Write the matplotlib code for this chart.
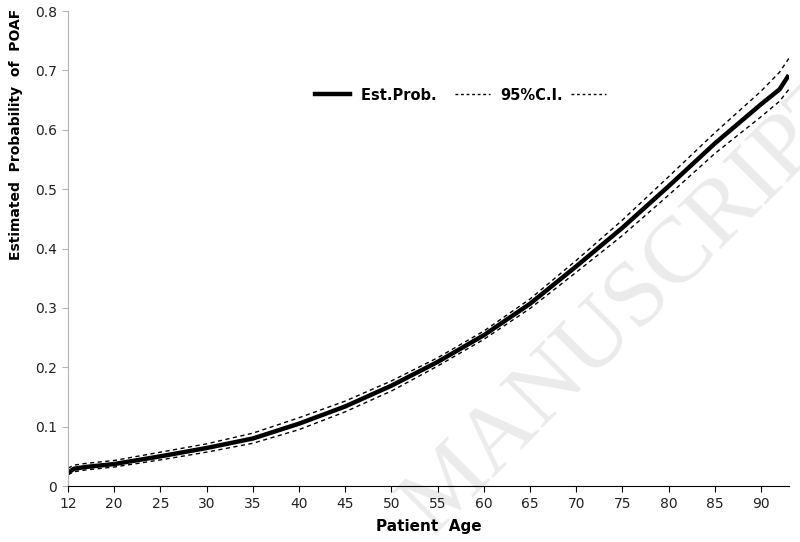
import numpy as np
import matplotlib
matplotlib.use("Agg")
import matplotlib.pyplot as plt
from matplotlib.lines import Line2D

# =========================
# DATA
# =========================
age = [12, 13, 15, 20, 25, 30, 35, 40, 45, 50, 55, 60, 65, 70, 75, 80, 85, 90, 92, 93]
est_prob = [0.022, 0.029, 0.032, 0.037, 0.050, 0.064, 0.080, 0.105, 0.134, 0.169, 0.209,
            0.254, 0.307, 0.370, 0.435, 0.505, 0.577, 0.643, 0.668, 0.692]
ci_upper = [0.030, 0.035, 0.038, 0.043, 0.057, 0.071, 0.089, 0.115, 0.143, 0.177, 0.216,
            0.261, 0.315, 0.380, 0.448, 0.521, 0.595, 0.665, 0.697, 0.720]
ci_lower = [0.019, 0.024, 0.027, 0.032, 0.044, 0.057, 0.072, 0.095, 0.125, 0.160, 0.202,
            0.247, 0.299, 0.360, 0.422, 0.490, 0.560, 0.622, 0.648, 0.668]

x_ticks = [12, 20, 25, 30, 35, 40, 45, 50, 55, 60, 65, 70, 75, 80, 85, 90]
y_ticks = [0, 0.1, 0.2, 0.3, 0.4, 0.5, 0.6, 0.7, 0.8]
y_tick_labels = ["0", "0.1", "0.2", "0.3", "0.4", "0.5", "0.6", "0.7", "0.8"]


# the first axis interval (12 -> 20) is squeezed to the width of 5 years
def fwd(x):
    x = np.asarray(x, dtype=float)
    return np.where(x < 20, 15 + (x - 12) * 5 / 8, x)


def inv(p):
    p = np.asarray(p, dtype=float)
    return np.where(p < 20, 12 + (p - 15) * 8 / 5, p)


fig = plt.figure(figsize=(8, 5.42), dpi=100)
ax = fig.add_axes([0.085, 0.1033, 0.901, 0.8764])

# watermark, drawn behind the axes
fig.text(0.79, 0.44, "MANUSCRIPT", fontsize=68, family="Liberation Serif",
         color="#ebebeb", rotation=45, ha="center", va="center", zorder=-1)
ax.patch.set_alpha(0)

ax.set_xscale("function", functions=(fwd, inv))

ax.plot(age, ci_upper, color="black", lw=1, linestyle=(0, (3, 2.5)))
ax.plot(age, ci_lower, color="black", lw=1, linestyle=(0, (3, 2.5)))
ax.plot(age, est_prob, color="black", lw=3.2, solid_capstyle="butt")

ax.set_xlim(12, 93)
ax.set_ylim(0, 0.8)
ax.set_xticks(x_ticks)
ax.set_xticklabels([str(v) for v in x_ticks])
ax.set_yticks(y_ticks)
ax.set_yticklabels(y_tick_labels)
ax.minorticks_off()

ax.spines["top"].set_visible(False)
ax.spines["right"].set_visible(False)
ax.spines["left"].set_color("#b4b4b4")
ax.spines["bottom"].set_color("black")
ax.tick_params(axis="y", colors="#b4b4b4", labelcolor="#222222", length=4,
               labelsize=10, pad=4)
ax.tick_params(axis="x", colors="black", labelcolor="#222222", length=4,
               labelsize=10, pad=4)

ax.set_xlabel("Patient  Age", fontsize=11, fontweight="bold", labelpad=6)
ax.set_ylabel("Estimated  Probability  of  POAF", fontsize=10, fontweight="bold")
ax.yaxis.set_label_coords(-0.063, 0.74)

handles = [
    Line2D([], [], color="black", lw=3.2),
    Line2D([], [], color="black", lw=1, linestyle=(0, (2, 2))),
    Line2D([], [], color="black", lw=1, linestyle=(0, (2, 2))),
]
ax.legend(handles, ["Est.Prob.  ", "95%C.I.", ""], ncol=3, frameon=False,
          loc="center", bbox_to_anchor=(0.552, 0.823), prop={"weight": "bold", "size": 10.5},
          handlelength=2.4, handletextpad=0.75, columnspacing=0.55)

fig.savefig("out.png", dpi=100)
